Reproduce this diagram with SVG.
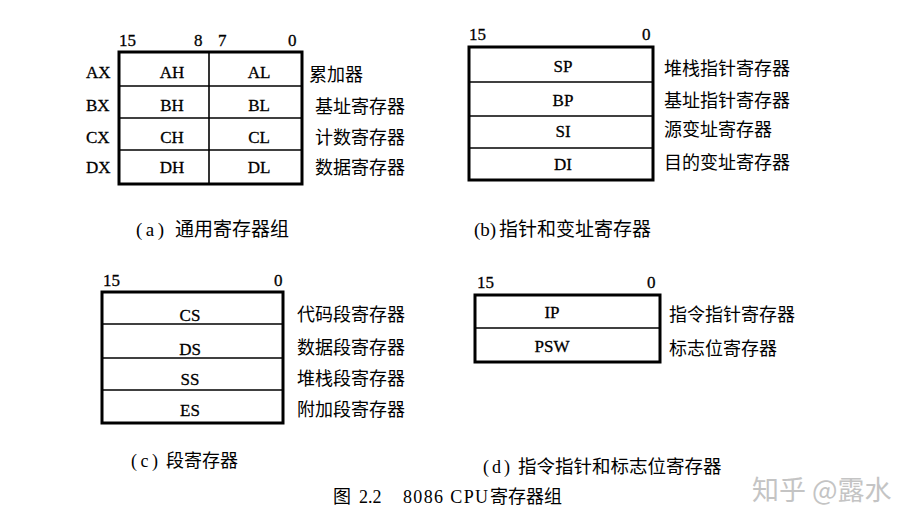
<svg xmlns="http://www.w3.org/2000/svg" width="914" height="529" viewBox="0 0 914 529">
<style>
.frame{fill:#fff;stroke:#000;stroke-width:3}
.div{stroke:#000;stroke-width:1.6;fill:none}
.lat{font-family:"Liberation Serif","Times New Roman",serif;font-size:17px;fill:#000;stroke:#000;stroke-width:0.3}
.reg{font-family:"Liberation Serif","Times New Roman",serif;font-size:17px;fill:#000;stroke:#000;stroke-width:0.3;text-anchor:middle}
.cn{font-family:"Noto Sans CJK SC","Noto Sans",sans-serif;font-size:18px;fill:#000}
.cap{font-family:"Noto Sans CJK SC","Noto Sans",sans-serif;fill:#000}
.capl{font-family:"Liberation Serif","Times New Roman",serif;fill:#000}
</style>
<rect width="914" height="529" fill="#fff"/>

<g id="group-a">
  <rect class="frame" x="119" y="52" width="183" height="132"/>
  <line class="div" x1="119" y1="86" x2="302" y2="86"/>
  <line class="div" x1="119" y1="118" x2="302" y2="118"/>
  <line class="div" x1="119" y1="150" x2="302" y2="150"/>
  <line class="div" x1="209" y1="52" x2="209" y2="184"/>
  <text class="lat" x="119" y="46">15</text>
  <text class="lat" x="194" y="46">8</text>
  <text class="lat" x="218" y="46">7</text>
  <text class="lat" x="288" y="46">0</text>
  <text class="lat" x="86" y="78">AX</text>
  <text class="lat" x="86" y="111">BX</text>
  <text class="lat" x="86" y="143">CX</text>
  <text class="lat" x="86" y="173">DX</text>
  <text class="reg" x="172" y="78">AH</text>
  <text class="reg" x="259" y="78">AL</text>
  <text class="reg" x="172" y="111">BH</text>
  <text class="reg" x="259" y="111">BL</text>
  <text class="reg" x="172" y="143">CH</text>
  <text class="reg" x="259" y="143">CL</text>
  <text class="reg" x="172" y="173">DH</text>
  <text class="reg" x="259" y="173">DL</text>
  <text class="cn" x="309" y="81">累加器</text>
  <text class="cn" x="315" y="113">基址寄存器</text>
  <text class="cn" x="315" y="144">计数寄存器</text>
  <text class="cn" x="315" y="174">数据寄存器</text>
  <text y="236"><tspan class="capl" x="136" font-size="19" textLength="28">(a)</tspan><tspan class="cap" x="175" font-size="19">通用寄存器组</tspan></text>
</g>

<g id="group-b">
  <rect class="frame" x="469" y="47" width="184" height="133"/>
  <line class="div" x1="469" y1="82" x2="653" y2="82"/>
  <line class="div" x1="469" y1="116" x2="653" y2="116"/>
  <line class="div" x1="469" y1="148" x2="653" y2="148"/>
  <text class="lat" x="469" y="40">15</text>
  <text class="lat" x="642" y="40">0</text>
  <text class="reg" x="563" y="72">SP</text>
  <text class="reg" x="563" y="106">BP</text>
  <text class="reg" x="563" y="137">SI</text>
  <text class="reg" x="563" y="170">DI</text>
  <text class="cn" x="664" y="75">堆栈指针寄存器</text>
  <text class="cn" x="664" y="107">基址指针寄存器</text>
  <text class="cn" x="664" y="136">源变址寄存器</text>
  <text class="cn" x="664" y="169">目的变址寄存器</text>
  <text y="236"><tspan class="capl" x="474" font-size="19">(b)</tspan><tspan class="cap" x="499" font-size="19">指针和变址寄存器</tspan></text>
</g>

<g id="group-c">
  <rect class="frame" x="102" y="292" width="181" height="131"/>
  <line class="div" x1="102" y1="324" x2="283" y2="324"/>
  <line class="div" x1="102" y1="358" x2="283" y2="358"/>
  <line class="div" x1="102" y1="390" x2="283" y2="390"/>
  <text class="lat" x="103" y="286">15</text>
  <text class="lat" x="274" y="286">0</text>
  <text class="reg" x="190" y="321">CS</text>
  <text class="reg" x="190" y="355">DS</text>
  <text class="reg" x="190" y="385">SS</text>
  <text class="reg" x="190" y="416">ES</text>
  <text class="cn" x="297" y="321">代码段寄存器</text>
  <text class="cn" x="297" y="354">数据段寄存器</text>
  <text class="cn" x="297" y="385">堆栈段寄存器</text>
  <text class="cn" x="297" y="416">附加段寄存器</text>
  <text y="467"><tspan class="capl" x="131" font-size="18" textLength="27">(c)</tspan><tspan class="cap" x="166" font-size="18">段寄存器</tspan></text>
</g>

<g id="group-d">
  <rect class="frame" x="475" y="295" width="185" height="67"/>
  <line class="div" x1="475" y1="328" x2="660" y2="328"/>
  <text class="lat" x="477" y="288">15</text>
  <text class="lat" x="647" y="288">0</text>
  <text class="reg" x="552" y="318">IP</text>
  <text class="reg" x="552" y="352">PSW</text>
  <text class="cn" x="669" y="321">指令指针寄存器</text>
  <text class="cn" x="669" y="355">标志位寄存器</text>
  <text y="473"><tspan class="capl" x="483" font-size="18" textLength="27">(d)</tspan><tspan class="cap" x="518" font-size="18.5">指令指针和标志位寄存器</tspan></text>
</g>

<g id="figure-caption">
  <text y="503"><tspan class="cap" x="333" font-size="18">图</tspan><tspan class="capl" x="359" font-size="18">2.2</tspan><tspan class="capl" x="403" font-size="18" textLength="85">8086 CPU</tspan><tspan class="cap" x="490" font-size="18">寄存器组</tspan></text>
</g>

<g id="connectors"></g>

<g id="watermark">
  <text x="752" y="500" font-family="'Noto Sans CJK SC','Noto Sans',sans-serif" font-size="27" fill="#c4c4c4">知乎 @露水</text>
</g>
</svg>
